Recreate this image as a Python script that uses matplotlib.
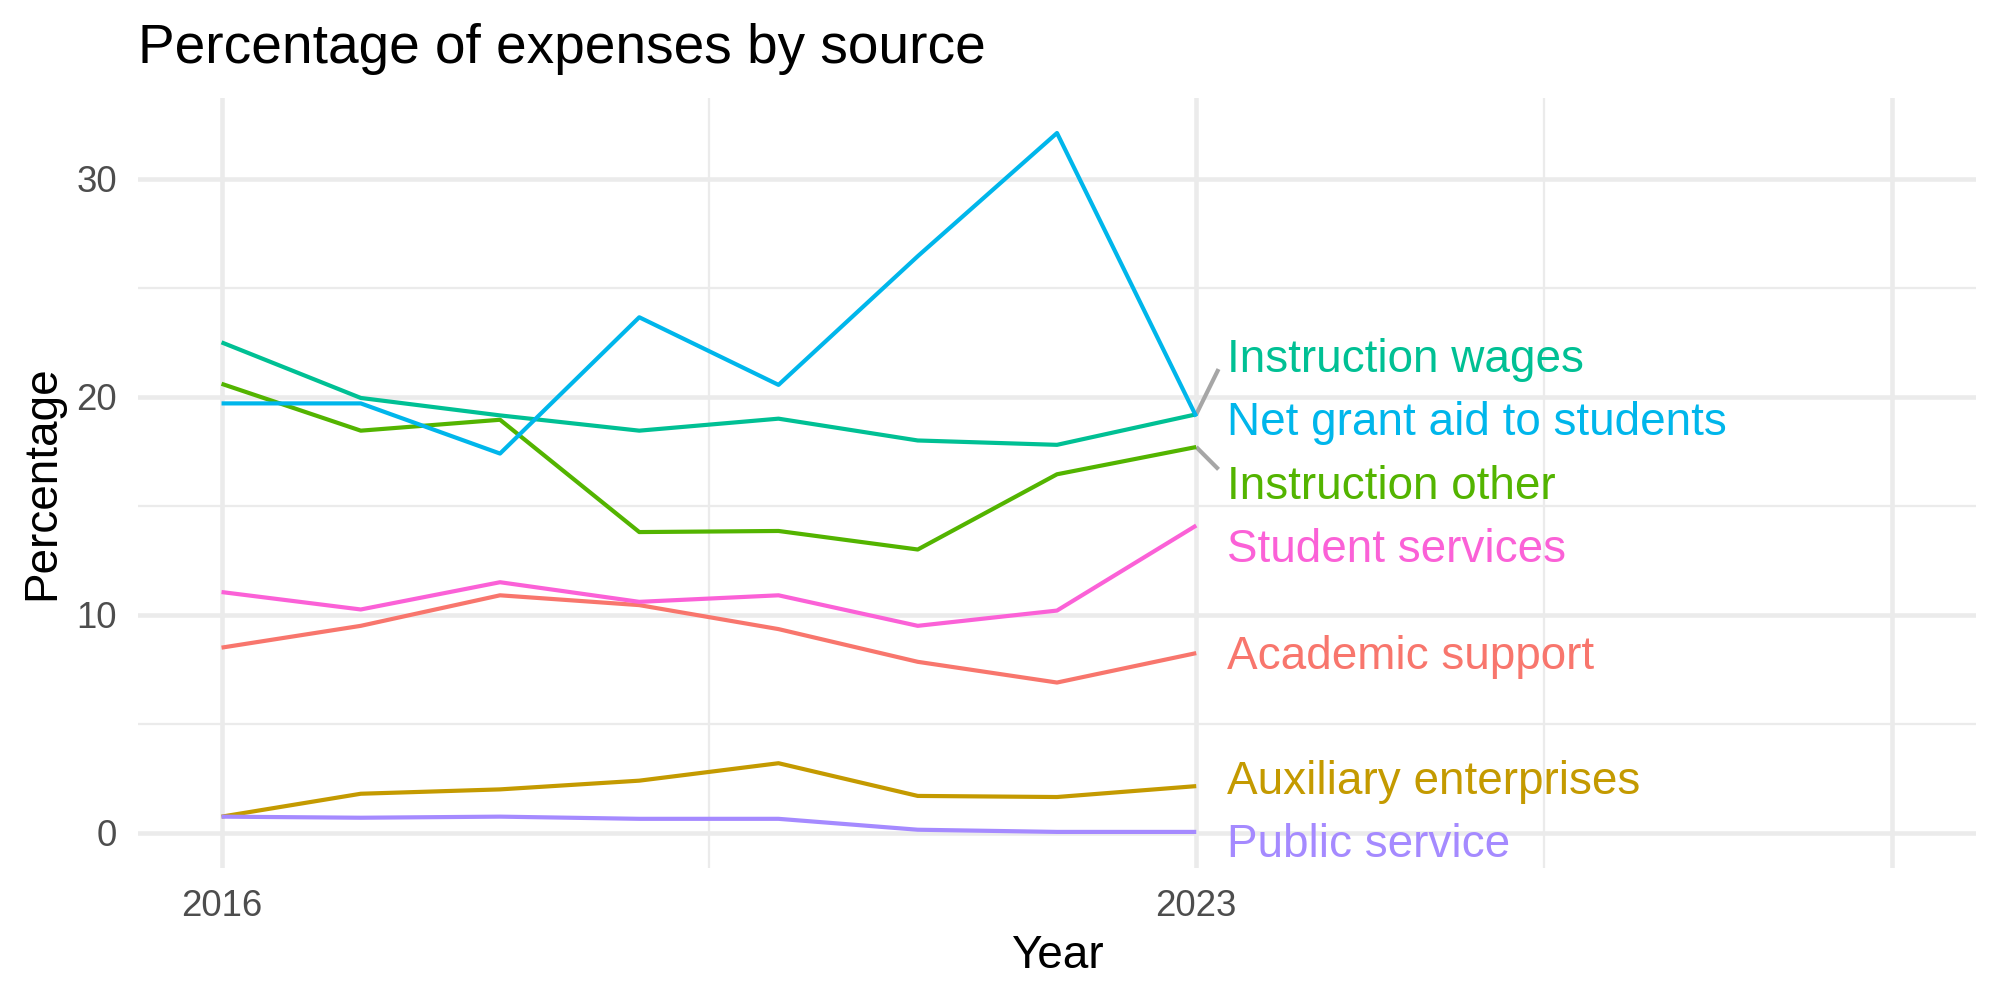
import matplotlib
matplotlib.use("Agg")
import matplotlib.pyplot as plt
from matplotlib.transforms import offset_copy

# Daten
jahre = [2016, 2017, 2018, 2019, 2020, 2021, 2022, 2023]

academic_support = [8.5, 9.5, 10.9, 10.45, 9.35, 7.85, 6.9, 8.25]
auxiliary_enterprises = [0.75, 1.8, 2.0, 2.4, 3.2, 1.7, 1.65, 2.15]
instruction_other = [20.6, 18.45, 18.95, 13.8, 13.85, 13.0, 16.45, 17.7]
instruction_wages = [22.5, 19.95, 19.15, 18.45, 19.0, 18.0, 17.8, 19.2]
net_grant_aid = [19.7, 19.7, 17.4, 23.65, 20.55, 26.45, 32.1, 19.1]
public_service = [0.75, 0.7, 0.75, 0.65, 0.65, 0.15, 0.05, 0.05]
student_services = [11.05, 10.25, 11.5, 10.6, 10.9, 9.5, 10.2, 14.1]

namen = ["Academic support", "Auxiliary enterprises", "Instruction other",
         "Instruction wages", "Net grant aid to students", "Public service",
         "Student services"]
reihen = [academic_support, auxiliary_enterprises, instruction_other,
          instruction_wages, net_grant_aid, public_service, student_services]
farben = ["#F8766D", "#C49A00", "#53B400", "#00C094", "#00B6EB", "#A58AFF", "#FB61D7"]

plt.rcParams["font.family"] = ["Liberation Sans", "DejaVu Sans"]


def labels_verteilen(werte, abstand):
    """einfache 1D-Abstossung der Beschriftungen (wie ggrepel, nur vertikal)"""
    reihenfolge = sorted(range(len(werte)), key=lambda i: werte[i])
    gruppen = [[i] for i in reihenfolge]

    def positionen(gruppe):
        mitte = sum(werte[i] for i in gruppe) / len(gruppe)
        n = len(gruppe)
        return [mitte + (k - (n - 1) / 2) * abstand for k in range(n)]

    geaendert = True
    while geaendert:
        geaendert = False
        for g in range(len(gruppen) - 1):
            oben_unten = positionen(gruppen[g])[-1]
            unten_oben = positionen(gruppen[g + 1])[0]
            if unten_oben - oben_unten < abstand:
                gruppen[g] = gruppen[g] + gruppen[g + 1]
                del gruppen[g + 1]
                geaendert = True
                break

    ergebnis = [0.0] * len(werte)
    for gruppe in gruppen:
        for i, p in zip(gruppe, positionen(gruppe)):
            ergebnis[i] = p
    return ergebnis


fig = plt.figure(figsize=(2000 / 300, 1000 / 300), dpi=300)
ax = fig.add_axes([0.069, 0.132, 0.919, 0.770])

for reihe, farbe in zip(reihen, farben):
    ax.plot(jahre, reihe, color=farbe, lw=1.0, solid_capstyle="butt", zorder=3)

# Beschriftungen am Ende der Linien
end_werte = [r[-1] for r in reihen]
label_y = labels_verteilen(end_werte, 2.9)
x_label = jahre[-1] + 0.22
text_trans = offset_copy(ax.transData, fig=fig, y=-3.9, units="points")
for name, farbe, ende, ly in zip(namen, farben, end_werte, label_y):
    ax.text(x_label, ly, name, color=farbe, fontsize=11, va="baseline",
            ha="left", transform=text_trans, zorder=4)
    if abs(ly - ende) > 1.2:
        richtung = 1 if ende > ly else -1
        ax.plot([jahre[-1], jahre[-1] + 0.16], [ende, ly + richtung * 0.6],
                color="#A6A6A6", lw=1.0, solid_capstyle="butt", zorder=2)

# Achsen wie theme_minimal
alle = [v for r in reihen for v in r]
y_min, y_max = min(0, min(alle)), max(alle)
y_pad = (y_max - y_min) * 0.05
ax.set_ylim(y_min - y_pad, y_max + y_pad)
x_rechts = 2028
x_pad = (x_rechts - jahre[0]) * 0.05
ax.set_xlim(jahre[0] - x_pad, x_rechts + x_pad)

ax.set_xticks([2016, 2023, 2028])
ax.set_xticklabels(["2016", "2023", ""])
ax.set_xticks([2019.5, 2025.5], minor=True)
ax.set_yticks([0, 10, 20, 30])
ax.set_yticks([5, 15, 25], minor=True)

ax.grid(True, which="major", color="#EBEBEB", lw=1.1)
ax.grid(True, which="minor", color="#EBEBEB", lw=0.55)
ax.set_axisbelow(True)
for s in ax.spines.values():
    s.set_visible(False)
ax.tick_params(which="both", length=0)
ax.tick_params(axis="x", pad=5.0, labelsize=8.8, labelcolor="#4D4D4D")
ax.tick_params(axis="y", pad=5.0, labelsize=8.8, labelcolor="#4D4D4D")

ax.set_xlabel("Year", fontsize=11, labelpad=2.5)
ax.set_ylabel("Percentage", fontsize=11, labelpad=3)
ax.set_title("Percentage of expenses by source", loc="left", fontsize=13.2, pad=8.4)

fig.savefig("out.png", dpi=300, facecolor="white")
